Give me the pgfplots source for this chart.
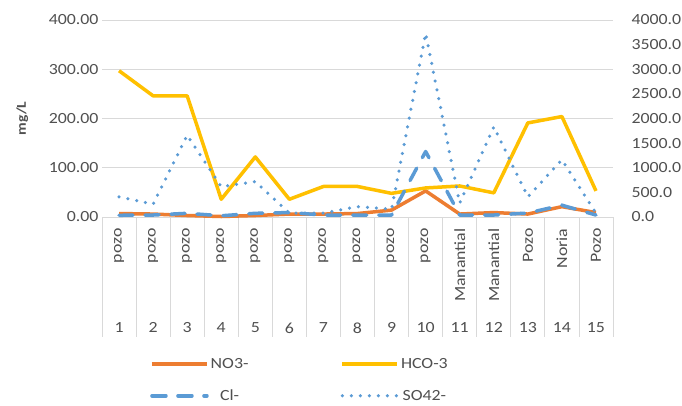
\documentclass[border=0pt]{standalone}
\usepackage{fontspec}
\setmainfont{Carlito}[FakeStretch=1.15]
\usepackage{pgfplots}
\usepackage{pgfplotstable}
\pgfplotsset{compat=1.18}
\definecolor{no3c}{HTML}{ED7D31}
\definecolor{hco3c}{HTML}{FFC000}
\definecolor{bluec}{HTML}{5B9BD5}
\definecolor{gridc}{HTML}{D9D9D9}
\definecolor{txtc}{HTML}{505050}

% samples 1..15: NO3-, HCO-3 (left axis, mg/L); Cl-, SO42- (right axis)
\pgfplotstableread{
x  no3 hco3 cl   so4
1  7   297  35   410
2  6   246  40   260
3  3   246  75   1660
4  1   36   25   615
5  3   122  75   720
6  6   36   90   80
7  6   62   40   80
8  7   62   40   210
9  14  48   40   160
10 53  59   1330 3730
11 6   63   40   280
12 9   49   40   1830
13 6   191  80   410
14 21  204  240  1160
15 9   53   40   80
}\chem

\pgfplotsset{
  base/.style={
    scale only axis, width=511pt, height=197pt,
    at={(102pt,-217pt)}, anchor=south west,
    xmin=0.5, xmax=15.5, clip=false,
    axis line style={draw=none}, tick style={draw=none},
    tick label style={font=\fontsize{15.5}{18}\selectfont, text=txtc},
    /pgf/number format/assume math mode=true,
  },
  ln/.style={line width=3.5pt, line join=round},
}

\begin{document}
\begin{tikzpicture}[x=1pt,y=1pt]
\useasboundingbox[fill=white] (0,0) rectangle (682,-406);

\begin{axis}[base,
    ymin=0, ymax=400, ytick={0,100,...,400},
    yticklabel style={/pgf/number format/fixed, /pgf/number format/fixed zerofill,
      /pgf/number format/precision=2},
    ymajorgrids, grid style={gridc, line width=0.8pt},
    xtick={1,...,15},
    xticklabels={pozo\kern8pt,pozo\kern8pt,pozo\kern8pt,pozo\kern8pt,pozo\kern8pt,
      pozo\kern8pt,pozo\kern8pt,pozo\kern8pt,pozo\kern8pt,pozo\kern8pt,
      Manantial\kern8pt,Manantial\kern8pt,Pozo\kern8pt,Noria\kern8pt,Pozo\kern8pt},
    xticklabel style={rotate=90, anchor=east},
    ylabel={mg/L},
    ylabel style={at={(axis description cs:-0.156,0.5)}, anchor=center,
      font=\bfseries\fontsize{13.5}{15}\selectfont, text=txtc},
]
  \pgfplotsinvokeforeach{0.5,1.5,...,15.5}{
    \draw[gridc, line width=0.8pt] (axis cs:#1,0) -- ++(0pt,-120pt);
  }
  \addplot[no3c, ln] table[x=x, y=no3] {\chem};
  \addplot[hco3c, ln] table[x=x, y=hco3] {\chem};
\end{axis}

\begin{axis}[base,
    axis y line*=right,
    ymin=0, ymax=4000, ytick={0,500,...,4000},
    yticklabel style={xshift=15pt, /pgf/number format/fixed, /pgf/number format/fixed zerofill,
      /pgf/number format/precision=1, /pgf/number format/1000 sep={}},
    xtick={1,...,15},
    xticklabel style={yshift=-102pt},
    legend columns=2,
    legend image code/.code={\draw[#1] (0pt,0pt) -- (55pt,0pt);},
    legend style={draw=none, fill=none, inner sep=0pt,
      at={(axis description cs:0.094,-0.705)}, anchor=north west,
      font=\fontsize{15.5}{18}\selectfont, text=txtc,
      row sep=16pt,
      /tikz/every even column/.append style={column sep=90pt}},
]
  \addlegendimage{no3c, ln}
  \addlegendentry{NO3-}
  \addlegendimage{hco3c, ln}
  \addlegendentry{HCO-3}
  \addplot[bluec, ln, line cap=round, dash pattern=on 14pt off 12pt]
    table[x=x, y=cl] {\chem};
  \addlegendentry{Cl-}
  \addplot[bluec, ln, line cap=round, dash pattern=on 0pt off 9pt]
    table[x=x, y=so4] {\chem};
  \addlegendentry{SO42-}
\end{axis}
\end{tikzpicture}
\end{document}
